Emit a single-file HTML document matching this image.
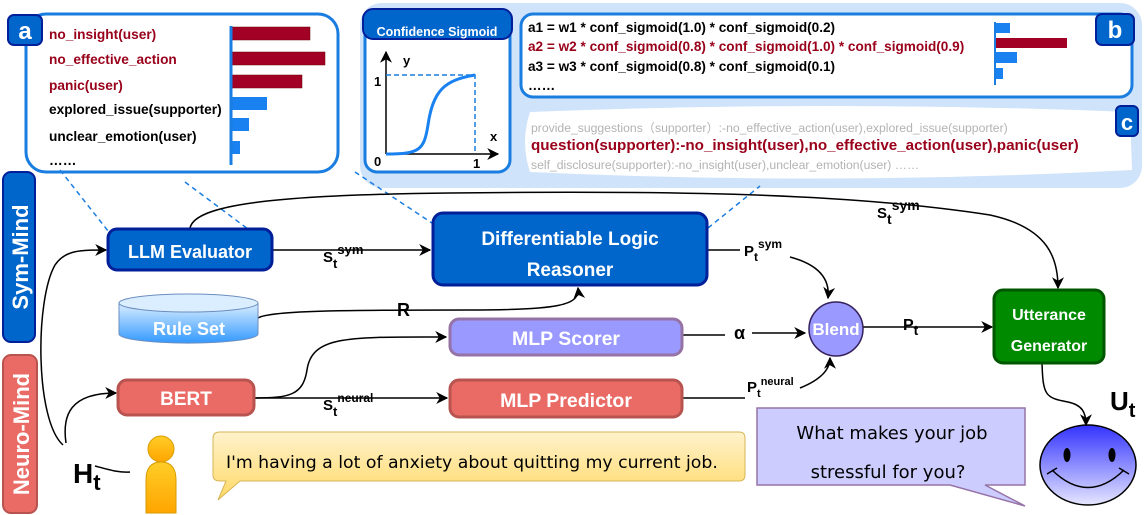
<!DOCTYPE html>
<html><head><meta charset="utf-8"><style>
body{margin:0;background:#fff;}
svg{display:block;font-family:"Liberation Sans",Arial,sans-serif;}
.b{font-weight:bold;}
</style></head><body>
<svg width="1144" height="515" viewBox="0 0 1144 515" xmlns="http://www.w3.org/2000/svg">
<defs>
<marker id="ar" viewBox="0 0 10 10" refX="9" refY="5" markerWidth="8" markerHeight="8" orient="auto-start-reverse"><path d="M0,0 L10,5 L0,10 L3,5 z" fill="#000"/></marker>
<linearGradient id="cyl" x1="0" y1="0" x2="0" y2="1"><stop offset="0" stop-color="#dbeeff"/><stop offset="1" stop-color="#3399ff"/></linearGradient>
<linearGradient id="face" x1="0" y1="0" x2="0" y2="1"><stop offset="0" stop-color="#3333ff"/><stop offset="1" stop-color="#e6e6ff"/></linearGradient>
<linearGradient id="usr" x1="0" y1="0" x2="0" y2="1"><stop offset="0" stop-color="#ffcd28"/><stop offset="1" stop-color="#ffa500"/></linearGradient>
<linearGradient id="yb" x1="0" y1="0" x2="0" y2="1"><stop offset="0" stop-color="#fff2cc"/><stop offset="1" stop-color="#ffd966"/></linearGradient>
</defs>

<rect x="360" y="3" width="782" height="185" rx="22" fill="#cfe3fa"/>

<!-- panel a -->
<rect x="26" y="14" width="312" height="158" rx="20" fill="#fff" stroke="#1a7de0" stroke-width="3"/>
<rect x="8" y="15" width="34" height="30" rx="6" fill="#0066cc" stroke="#001f99" stroke-width="2"/>
<text x="25" y="39" font-size="24" class="b" fill="#fff" text-anchor="middle">a</text>
<g font-size="13.7" class="b">
<text x="49" y="39" fill="#99001a">no_insight(user)</text>
<text x="49" y="64" fill="#99001a">no_effective_action</text>
<text x="49" y="90" fill="#99001a">panic(user)</text>
<text x="49" y="114" fill="#000">explored_issue(supporter)</text>
<text x="49" y="141" fill="#000">unclear_emotion(user)</text>
<text x="49" y="165" fill="#000">……</text>
</g>
<rect x="231" y="27" width="79" height="13" fill="#a20025" stroke="#6f0000" stroke-width="0.5"/>
<rect x="231" y="52" width="94" height="13" fill="#a20025" stroke="#6f0000" stroke-width="0.5"/>
<rect x="231" y="75" width="71" height="13" fill="#a20025" stroke="#6f0000" stroke-width="0.5"/>
<rect x="231" y="97" width="36" height="13" fill="#1a82f0"/>
<rect x="231" y="118" width="18" height="13" fill="#1a82f0"/>
<rect x="231" y="141" width="9" height="13" fill="#1a82f0"/>
<line x1="231" y1="26" x2="231" y2="165" stroke="#1a7de0" stroke-width="3"/>

<!-- sigmoid -->
<rect x="365" y="12" width="145" height="160" rx="12" fill="#fff" stroke="#1a7de0" stroke-width="3"/>
<rect x="363" y="9" width="149" height="30" rx="10" fill="#0066cc" stroke="#001f99" stroke-width="2"/>
<text x="437" y="36" font-size="12.5" class="b" fill="#fff" text-anchor="middle">Confidence Sigmoid</text>
<line x1="386" y1="154" x2="386" y2="52" stroke="#000" stroke-width="1.5" marker-end="url(#ar)"/>
<line x1="386" y1="154" x2="498" y2="154" stroke="#000" stroke-width="1.5" marker-end="url(#ar)"/>
<path d="M386,75 H475 V154" fill="none" stroke="#1a7de0" stroke-width="1.5" stroke-dasharray="5,3"/>
<path d="M386,154 C420,154 424,150 428,125 C433,90 445,80 475,75" fill="none" stroke="#1a82f0" stroke-width="3"/>
<text x="403" y="65" font-size="13" class="b">y</text>
<text x="374" y="86" font-size="13" class="b">1</text>
<text x="374" y="166" font-size="13" class="b">0</text>
<text x="473" y="168" font-size="13" class="b">1</text>
<text x="490" y="141" font-size="13" class="b">x</text>

<!-- panel b -->
<rect x="521" y="14" width="611" height="83" rx="12" fill="#fff" stroke="#1a7de0" stroke-width="3"/>
<g font-size="13.6" class="b">
<text x="528" y="32">a1 =  w1 * conf_sigmoid(1.0) * conf_sigmoid(0.2)</text>
<text x="528" y="51" fill="#99001a">a2 = w2 * conf_sigmoid(0.8) * conf_sigmoid(1.0) * conf_sigmoid(0.9)</text>
<text x="528" y="71">a3 = w3 * conf_sigmoid(0.8) * conf_sigmoid(0.1)</text>
<text x="528" y="90">……</text>
</g>
<rect x="995" y="23" width="15" height="10" fill="#1a82f0"/>
<rect x="995" y="38" width="72" height="10" fill="#a20025"/>
<rect x="995" y="52" width="22" height="11" fill="#1a82f0"/>
<rect x="995" y="68" width="8" height="11" fill="#1a82f0"/>
<line x1="995" y1="22" x2="995" y2="85" stroke="#1a7de0" stroke-width="2"/>
<rect x="1096" y="14" width="38" height="31" rx="6" fill="#0066cc" stroke="#001f99" stroke-width="2"/>
<text x="1115" y="38" font-size="24" class="b" fill="#fff" text-anchor="middle">b</text>

<!-- panel c -->
<path d="M530,112 Q830,100 1130,112 L1132,170 Q830,186 530,172 Q520,142 530,112 Z" fill="#fff"/>
<rect x="1116" y="106" width="22" height="30" rx="5" fill="#0066cc" stroke="#001f99" stroke-width="2"/>
<text x="1127" y="130" font-size="22" class="b" fill="#fff" text-anchor="middle">c</text>
<text x="531" y="132" font-size="12.2" fill="#b3b3b3">provide_suggestions（supporter）:-no_effective_action(user),explored_issue(supporter)</text>
<text x="531" y="150" font-size="15.2" class="b" fill="#99001a">question(supporter):-no_insight(user),no_effective_action(user),panic(user)</text>
<text x="531" y="169" font-size="12.2" fill="#b3b3b3">self_disclosure(supporter):-no_insight(user),unclear_emotion(user) ……</text>

<g stroke="#1a7de0" stroke-width="1.5" stroke-dasharray="5,4" fill="none">
<line x1="60" y1="170" x2="112" y2="236"/>
<line x1="185" y1="182" x2="256" y2="235"/>
<line x1="355" y1="172" x2="435" y2="225"/>
<line x1="708" y1="228" x2="760" y2="186"/>
</g>

<rect x="3" y="172" width="32" height="170" rx="8" fill="#0066cc" stroke="#001f99" stroke-width="2"/>
<text transform="translate(28,257) rotate(-90)" font-size="22" class="b" fill="#fff" text-anchor="middle">Sym-Mind</text>
<rect x="3" y="355" width="34" height="158" rx="8" fill="#ea6b66" stroke="#b85450" stroke-width="2"/>
<text transform="translate(29,434) rotate(-90)" font-size="22" class="b" fill="#fff" text-anchor="middle">Neuro-Mind</text>

<g fill="none" stroke="#000" stroke-width="1.5">
<path d="M190,228 C195,205 270,195 450,193 C700,190 860,195 990,215 C1050,228 1058,260 1058,288" marker-end="url(#ar)"/>
<path d="M272,250 H430" marker-end="url(#ar)"/>
<path d="M258,318 C270,310 360,310 470,310 C560,310 580,305 578,288" marker-end="url(#ar)"/>
<path d="M708,250 H740"/>
<path d="M790,257 C820,265 830,280 828,298" marker-end="url(#ar)"/>
<path d="M682,335 H725 M752,333 H805" marker-end="url(#ar)"/>
<path d="M682,398 H745 M800,388 C820,380 830,370 830,358" marker-end="url(#ar)"/>
<path d="M863,327 H992" marker-end="url(#ar)"/>
<path d="M254,398 C290,398 303,395 307,370 C312,335 350,337 446,337" marker-end="url(#ar)"/>
<path d="M254,398 H447" marker-end="url(#ar)"/>
<path d="M1042,363 C1043,395 1045,398 1068,402 C1082,405 1086,412 1086,425" marker-end="url(#ar)"/>
<path d="M63,445 C35,420 35,300 55,265 C65,250 80,250 106,250" marker-end="url(#ar)"/>
<path d="M66,443 C62,415 70,393 116,393" marker-end="url(#ar)"/>
<path d="M95,466 C110,470 120,473 130,472"/>
</g>

<g font-size="15" class="b">
<text x="323" y="262">S<tspan dy="6" font-size="13">t</tspan><tspan dy="-14" font-size="13">sym</tspan></text>
<text x="877" y="218">S<tspan dy="6" font-size="14">t</tspan><tspan dy="-14" font-size="14">sym</tspan></text>
<text x="744" y="256">P<tspan dy="5" font-size="12">t</tspan><tspan dy="-13" font-size="12">sym</tspan></text>
<text x="397" y="316" font-size="18">R</text>
<text x="734" y="339" font-size="18">α</text>
<text x="903" y="330" font-size="16">P<tspan dy="5" font-size="14">t</tspan></text>
<text x="323" y="410">S<tspan dy="6" font-size="13">t</tspan><tspan dy="-14" font-size="12">neural</tspan></text>
<text x="747" y="392">P<tspan dy="5" font-size="11">t</tspan><tspan dy="-12" font-size="11">neural</tspan></text>
</g>
<text x="73" y="483" font-size="28" class="b">H<tspan dy="7" font-size="22">t</tspan></text>
<text x="1110" y="410" font-size="26" class="b">U<tspan dy="7" font-size="20">t</tspan></text>

<rect x="108" y="229" width="164" height="41" rx="9" fill="#0066cc" stroke="#001f99" stroke-width="3"/>
<text x="190" y="258" font-size="18" class="b" fill="#fff" text-anchor="middle">LLM Evaluator</text>
<rect x="433" y="213" width="274" height="72" rx="10" fill="#0066cc" stroke="#001f99" stroke-width="3"/>
<text x="570" y="245" font-size="19" class="b" fill="#fff" text-anchor="middle">Differentiable Logic</text>
<text x="570" y="276" font-size="19" class="b" fill="#fff" text-anchor="middle">Reasoner</text>
<path d="M119,303 V334 A69,9 0 0 0 258,334 V303" fill="url(#cyl)" stroke="#6c8ebf" stroke-width="1"/>
<ellipse cx="188.5" cy="303" rx="69.5" ry="9" fill="#dbeeff" stroke="#6c8ebf" stroke-width="1"/>
<text x="189" y="335" font-size="18" class="b" fill="#fff" text-anchor="middle">Rule Set</text>
<rect x="450" y="319" width="232" height="36" rx="9" fill="#9999ff" stroke="#9673a6" stroke-width="3"/>
<text x="566" y="345" font-size="19.5" class="b" fill="#fff" text-anchor="middle">MLP Scorer</text>
<rect x="118" y="380" width="136" height="35" rx="9" fill="#ea6b66" stroke="#b85450" stroke-width="3"/>
<text x="186" y="405" font-size="19" class="b" fill="#fff" text-anchor="middle">BERT</text>
<rect x="450" y="380" width="232" height="37" rx="9" fill="#ea6b66" stroke="#b85450" stroke-width="3"/>
<text x="566" y="407" font-size="19.5" class="b" fill="#fff" text-anchor="middle">MLP Predictor</text>
<circle cx="836" cy="329" r="27" fill="#9999ff" stroke="#36215a" stroke-width="1.5"/>
<text x="836" y="335" font-size="17" class="b" fill="#fff" text-anchor="middle">Blend</text>
<rect x="994" y="290" width="110" height="73" rx="9" fill="#008a00" stroke="#005700" stroke-width="3"/>
<text x="1049" y="320" font-size="16" class="b" fill="#fff" text-anchor="middle">Utterance</text>
<text x="1049" y="351" font-size="16" class="b" fill="#fff" text-anchor="middle">Generator</text>

<circle cx="161" cy="449" r="13" fill="url(#usr)" stroke="#d79b00"/>
<path d="M146,513 V480 Q146,462 161,462 Q176,462 176,480 V513 Z" fill="url(#usr)" stroke="#d79b00"/>

<path d="M220,432 H739 Q745,432 745,438 V475 Q745,481 739,481 H240 L218,500 L226,481 H220 Q213,481 213,475 V438 Q213,432 220,432 Z" fill="url(#yb)" stroke="#d6b656"/>
<text x="226" y="468" font-size="17.3" font-family="'Comic Sans MS','DejaVu Sans',sans-serif">I'm having a lot of anxiety about quitting my current job.</text>

<path d="M757,408 H1025 V485 H985 L1025,506 L950,485 H757 Z" fill="#ccccff" stroke="#9673a6" stroke-width="1.5"/>
<text x="892" y="439" font-size="18" text-anchor="middle" font-family="'Comic Sans MS','DejaVu Sans',sans-serif">What makes your job</text>
<text x="888" y="478" font-size="18" text-anchor="middle" font-family="'Comic Sans MS','DejaVu Sans',sans-serif">stressful for you?</text>

<ellipse cx="1088" cy="465" rx="48" ry="40" fill="url(#face)" stroke="#000" stroke-width="1.5"/>
<ellipse cx="1067" cy="455" rx="3.5" ry="7" fill="#000"/>
<ellipse cx="1112" cy="455" rx="3.5" ry="7" fill="#000"/>
<path d="M1052,470 Q1088,505 1124,470 M1047,474 L1057,468 M1119,468 L1129,474" fill="none" stroke="#000" stroke-width="1.5"/>
</svg>
</body></html>
